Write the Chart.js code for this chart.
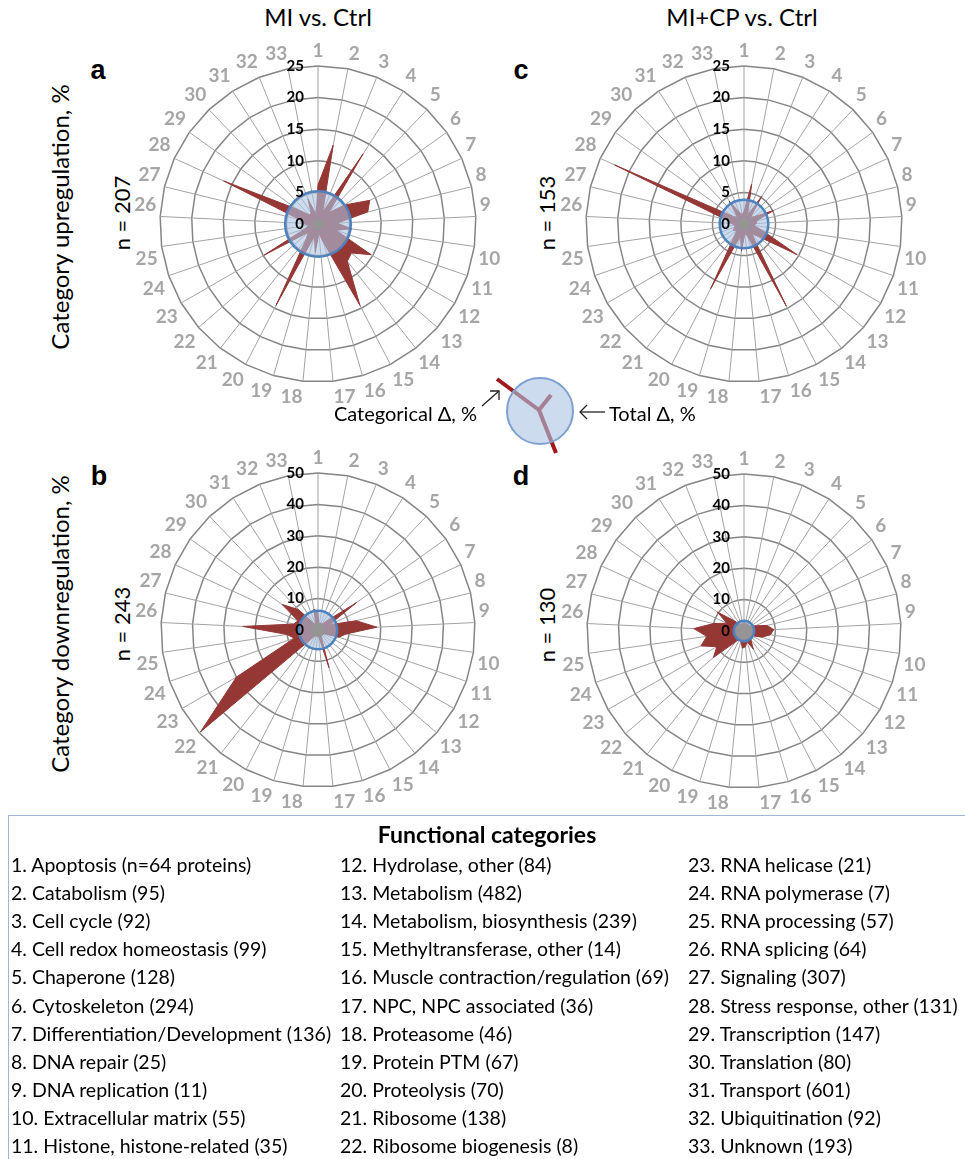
<!DOCTYPE html>
<html>
<head>
<meta charset="utf-8">
<script src="https://cdn.jsdelivr.net/npm/chart.js@4.4.1/dist/chart.umd.min.js"></script>
<style>
  body { margin: 0; background: #fff; width: 965px; height: 1159px; position: relative; overflow: hidden;
         font-family: Lato, "Open Sans", sans-serif; color: #000; }
  .t { position: absolute; white-space: nowrap; }
  .head { font-size: 24px; transform: translate(-50%, -50%); }
  .letter { font-family: "Liberation Sans", Arial, sans-serif; font-weight: bold; font-size: 27px; transform: translate(-50%, -50%); }
  .rot { font-size: 24px; transform: translate(-50%, -50%) rotate(-90deg); }
  .nlab { font-size: 22px; transform: translate(-50%, -50%) rotate(-90deg); }
  canvas { position: absolute; }
  #legend { position: absolute; left: 8px; top: 815px; width: 980px; height: 360px;
            border-top: 1.5px solid #9db7d9; border-left: 1.5px solid #9db7d9; }
  .ltitle { font-weight: bold; font-size: 23px; transform: translate(-50%, -50%); }
  .item { font-size: 19.5px; transform: translateY(-50%); }
</style>
</head>
<body>
<div class="t head" style="left:318px;top:16px">MI vs. Ctrl</div>
<div class="t head" style="left:742px;top:16px">MI+CP vs. Ctrl</div>
<div class="t letter" style="left:98px;top:70px">a</div>
<div class="t letter" style="left:521px;top:70px">c</div>
<div class="t letter" style="left:99px;top:476px">b</div>
<div class="t letter" style="left:521px;top:476px">d</div>
<div class="t rot" style="left:59px;top:217px">Category upregulation, %</div>
<div class="t rot" style="left:59px;top:624px">Category downregulation, %</div>
<div class="t nlab" id="nA" style="left:121px;top:213px"></div>
<div class="t nlab" id="nC" style="left:546px;top:213px"></div>
<div class="t nlab" id="nB" style="left:121px;top:624px"></div>
<div class="t nlab" id="nD" style="left:546px;top:625px"></div>

<canvas id="chartA" width="440" height="440"></canvas>
<canvas id="chartC" width="440" height="440"></canvas>
<canvas id="chartB" width="440" height="440"></canvas>
<canvas id="chartD" width="440" height="440"></canvas>

<svg style="position:absolute;left:470px;top:370px" width="110" height="95">
  <line x1="27" y1="9" x2="69" y2="40" stroke="#9e1a1f" stroke-width="4"/>
  <line x1="69" y1="40" x2="81" y2="25" stroke="#9e1a1f" stroke-width="4"/>
  <line x1="69" y1="40" x2="86" y2="83" stroke="#9e1a1f" stroke-width="4"/>
  <circle cx="70" cy="41" r="33" fill="rgba(170,195,225,0.6)" stroke="#7ea2d0" stroke-width="2"/>
  <line x1="12" y1="36" x2="29" y2="21" stroke="#222" stroke-width="1.3"/>
  <polyline points="20,21 29,21 29,30" fill="none" stroke="#222" stroke-width="1.3"/>
</svg>
<svg style="position:absolute;left:575px;top:400px" width="35" height="24">
  <line x1="5" y1="12" x2="30" y2="12" stroke="#222" stroke-width="1.3"/>
  <polyline points="12,5 5,12 12,19" fill="none" stroke="#222" stroke-width="1.3"/>
</svg>
<div class="t" style="right:488px;top:413px;transform:translateY(-50%);font-size:20px">Categorical Δ, %</div>
<div class="t" style="left:609px;top:413px;transform:translateY(-50%);font-size:20px">Total Δ, %</div>

<div id="legend"></div>

<script>
// 33 functional categories (spoke labels)
const categories = ['1','2','3','4','5','6','7','8','9','10','11','12','13','14','15','16','17',
  '18','19','20','21','22','23','24','25','26','27','28','29','30','31','32','33'];

// category upregulation, % (panel a: MI vs. Ctrl, panel c: MI+CP vs. Ctrl)
const upMI = [6.2, 12.7, 2.0, 13.2, 2.5, 5.2, 9.0, 8.1, 3.0, 5.4, 3.0, 9.7, 7.0, 7.5, 14.5, 3.0, 1.5,
  4.5, 2.0, 14.5, 3.0, 2.0, 9.9, 2.0, 1.5, 2.5, 3.0, 16.4, 4.0, 2.0, 2.0, 4.3, 1.5];
const upCP = [2.0, 6.4, 1.5, 5.2, 1.5, 2.0, 5.1, 2.0, 2.0, 1.5, 3.0, 9.7, 3.0, 2.0, 14.6, 2.0, 1.5,
  4.3, 2.0, 11.5, 2.5, 1.5, 2.0, 1.5, 1.5, 2.0, 3.0, 22.5, 2.0, 1.5, 4.3, 2.0, 1.5];

// category downregulation, % (panel b: MI vs. Ctrl, panel d: MI+CP vs. Ctrl)
const downMI = [5.5, 1.5, 2.5, 2.0, 4.0, 15.0, 4.0, 12.5, 18.8, 9.0, 7.0, 2.5, 2.0, 1.5, 2.0, 12.5, 2.0,
  1.5, 1.5, 2.0, 4.0, 49.5, 30.0, 8.0, 10.0, 24.0, 8.0, 7.0, 14.0, 9.0, 2.5, 2.0, 6.8];
const downCP = [3.0, 1.5, 2.0, 1.5, 2.0, 2.5, 4.0, 7.5, 9.5, 8.5, 6.0, 3.0, 3.5, 3.5, 6.5, 3.5, 5.0,
  5.5, 3.5, 2.5, 4.5, 12.9, 10.0, 14.5, 12.0, 16.0, 10.0, 6.0, 10.4, 4.5, 2.5, 2.0, 1.5];

// total change, % (blue circle) and protein counts
const totalDelta = [5.2, 3.85, 6.1, 3.25];   // a, c, b, d
const nCounts = [207, 153, 243, 130];        // a, c, b, d

// radial axis ticks
const upTicks = [0, 5, 10, 15, 20, 25];
const downTicks = [0, 10, 20, 30, 40, 50];

const legendNames = [
  'Apoptosis (n=64 proteins)', 'Catabolism (95)', 'Cell cycle (92)', 'Cell redox homeostasis (99)',
  'Chaperone (128)', 'Cytoskeleton (294)', 'Differentiation/Development (136)', 'DNA repair (25)',
  'DNA replication (11)', 'Extracellular matrix (55)', 'Histone, histone-related (35)',
  'Hydrolase, other (84)', 'Metabolism (482)', 'Metabolism, biosynthesis (239)',
  'Methyltransferase, other (14)', 'Muscle contraction/regulation (69)', 'NPC, NPC associated (36)',
  'Proteasome (46)', 'Protein PTM (67)', 'Proteolysis (70)', 'Ribosome (138)',
  'Ribosome biogenesis (8)', 'RNA helicase (21)', 'RNA polymerase (7)', 'RNA processing (57)',
  'RNA splicing (64)', 'Signaling (307)', 'Stress response, other (131)', 'Transcription (147)',
  'Translation (80)', 'Transport (601)', 'Ubiquitination (92)', 'Unknown (193)'
];

const RED = 'rgb(149,55,53)';
const BLUE = 'rgb(79,129,189)';

const deltaPlugin = {
  id: 'delta',
  afterDatasetsDraw(chart, args, opts) {
    const s = chart.scales.r;
    const ctx = chart.ctx;
    const d = s.getDistanceFromCenterForValue(opts.total);
    ctx.save();
    ctx.beginPath();
    ctx.arc(s.xCenter, s.yCenter, d, 0, Math.PI * 2);
    ctx.fillStyle = 'rgba(170,195,225,0.6)';
    ctx.fill();
    ctx.lineWidth = 2.5;
    ctx.strokeStyle = BLUE;
    ctx.stroke();
    ctx.restore();
  },
  afterDraw(chart, args, opts) {
    const s = chart.scales.r;
    const ctx = chart.ctx;
    ctx.save();
    // grey hub where the spokes meet
    ctx.beginPath();
    ctx.arc(s.xCenter, s.yCenter, opts.hub, 0, Math.PI * 2);
    ctx.fillStyle = '#959595';
    ctx.fill();
    // tick labels sit just left of the vertical spoke, like the original
    ctx.font = 'bold 15px Lato, sans-serif';
    ctx.fillStyle = '#000';
    ctx.textAlign = 'right';
    ctx.textBaseline = 'middle';
    s.ticks.forEach(t => {
      const d = s.getDistanceFromCenterForValue(t.value);
      ctx.fillText(String(t.value), s.xCenter - 14, s.yCenter - d);
    });
    ctx.restore();
  }
};

function makeChart(id, values, total, ticks, hub) {
  const max = ticks[ticks.length - 1];
  return new Chart(document.getElementById(id), {
    type: 'radar',
    data: {
      labels: categories,
      datasets: [{
        data: values,
        backgroundColor: RED,
        borderColor: RED,
        borderWidth: 1,
        pointRadius: 0,
        fill: true
      }]
    },
    options: {
      responsive: false,
      animation: false,
      devicePixelRatio: 1,
      layout: { padding: 20 },
      plugins: { legend: { display: false }, tooltip: { enabled: false }, delta: { total: total, hub: hub } },
      scales: {
        r: {
          z: 1,
          min: 0,
          max: max,
          ticks: { stepSize: ticks[1] - ticks[0], display: false },
          grid: { color: '#858585', lineWidth: 1.5 },
          angleLines: { color: '#a3a3a3', lineWidth: 1 },
          pointLabels: {
            color: '#a6a6a6',
            padding: 4,
            font: { family: 'Lato, sans-serif', size: 19, weight: 'bold' }
          }
        }
      }
    },
    plugins: [deltaPlugin]
  });
}

// put the chart so its centre and outer ring land where they are in the figure
function place(chart, cx, cy, R) {
  for (let i = 0; i < 3; i++) {
    const diff = chart.scales.r.drawingArea - R;
    if (Math.abs(diff) < 0.3) break;
    chart.options.layout.padding += diff;
    chart.update();
  }
  const s = chart.scales.r;
  chart.canvas.style.left = (cx - s.xCenter) + 'px';
  chart.canvas.style.top = (cy - s.yCenter) + 'px';
}

place(makeChart('chartA', upMI, totalDelta[0], upTicks, 5), 318, 224, 158);
place(makeChart('chartC', upCP, totalDelta[1], upTicks, 6), 744, 224, 158);
place(makeChart('chartB', downMI, totalDelta[2], downTicks, 7), 318, 630, 157);
place(makeChart('chartD', downCP, totalDelta[3], downTicks, 8), 744, 631, 157);

document.getElementById('nA').textContent = 'n = ' + nCounts[0];
document.getElementById('nC').textContent = 'n = ' + nCounts[1];
document.getElementById('nB').textContent = 'n = ' + nCounts[2];
document.getElementById('nD').textContent = 'n = ' + nCounts[3];

// legend of functional categories
const legend = document.getElementById('legend');
const title = document.createElement('div');
title.className = 't ltitle';
title.style.left = '478px';
title.style.top = '18px';
title.textContent = 'Functional categories';
legend.appendChild(title);
const colX = [2, 331, 679];
legendNames.forEach((name, i) => {
  const el = document.createElement('div');
  el.className = 't item';
  el.style.left = colX[Math.floor(i / 11)] + 'px';
  el.style.top = (48 + (i % 11) * 28.1) + 'px';
  el.textContent = (i + 1) + '. ' + name;
  legend.appendChild(el);
});
</script>
</body>
</html>
